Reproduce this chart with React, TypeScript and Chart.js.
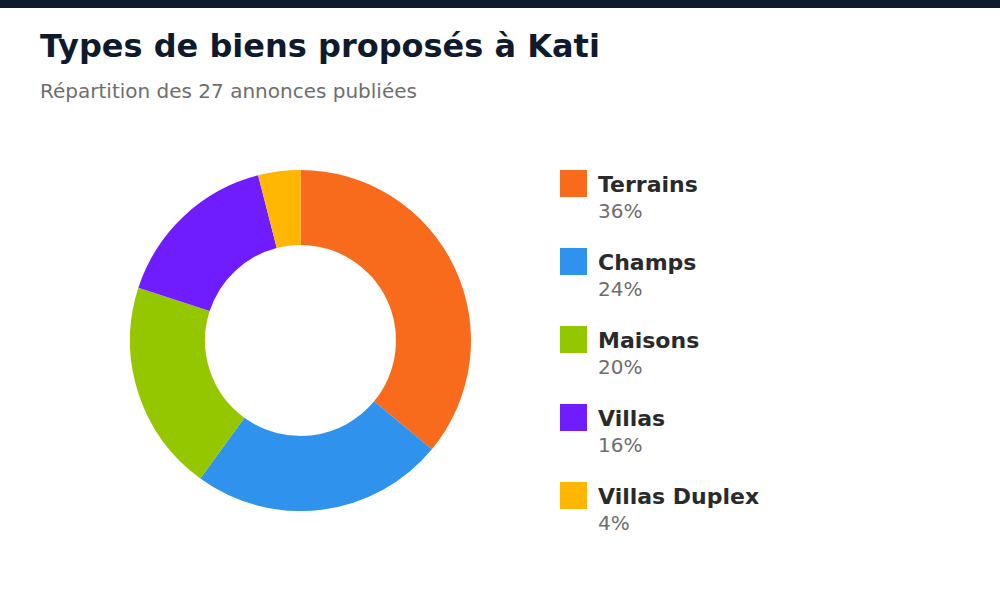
import React, { useEffect, useRef } from "react";
import { Chart, registerables } from "chart.js";

Chart.register(...registerables);

const categories = ["Terrains", "Champs", "Maisons", "Villas", "Villas Duplex"];
const values = [36, 24, 20, 16, 4];
const percentLabels = ["36%", "24%", "20%", "16%", "4%"];
const colors = ["#F96B1C", "#2F93EE", "#95C700", "#6F1DFF", "#FFB703"];

const FONT = "'DejaVu Sans', sans-serif";

export default function App() {
  const canvasRef = useRef<HTMLCanvasElement | null>(null);

  useEffect(() => {
    document.body.style.margin = "0";
    const ctx = canvasRef.current;
    if (!ctx) return;
    const chart = new Chart(ctx, {
      type: "doughnut",
      data: {
        labels: categories,
        datasets: [
          {
            data: values,
            backgroundColor: colors,
            borderWidth: 0,
          },
        ],
      },
      options: {
        animation: false,
        responsive: false,
        maintainAspectRatio: false,
        cutout: "56%",
        layout: { padding: 0 },
        plugins: {
          legend: { display: false },
          tooltip: { enabled: false },
          title: { display: false },
        },
      },
    });
    return () => chart.destroy();
  }, []);

  return (
    <div
      style={{
        position: "relative",
        width: 1000,
        height: 600,
        background: "#ffffff",
        fontFamily: FONT,
        overflow: "hidden",
      }}
    >
      <div style={{ position: "absolute", left: 0, top: 0, width: 1000, height: 8, background: "#0F1B2D" }} />
      <div
        style={{
          position: "absolute",
          left: 40,
          top: 30,
          fontSize: 32,
          lineHeight: 1,
          fontWeight: "bold",
          color: "#0F1B2D",
          whiteSpace: "nowrap",
        }}
      >
        Types de biens proposés à Kati
      </div>
      <div
        style={{
          position: "absolute",
          left: 40,
          top: 81,
          fontSize: 20,
          lineHeight: 1,
          color: "#6E6E6E",
          whiteSpace: "nowrap",
        }}
      >
        Répartition des 27 annonces publiées
      </div>
      <canvas
        ref={canvasRef}
        width={341}
        height={341}
        style={{ position: "absolute", left: 130, top: 170, width: 341, height: 341 }}
      />
      {categories.map((c, i) => (
        <div key={c}>
          <div
            style={{
              position: "absolute",
              left: 560,
              top: 170 + i * 78,
              width: 27,
              height: 27,
              background: colors[i],
            }}
          />
          <div
            style={{
              position: "absolute",
              left: 598,
              top: 174 + i * 78,
              fontSize: 22,
              lineHeight: 1,
              fontWeight: "bold",
              color: "#2A2A2A",
              whiteSpace: "nowrap",
            }}
          >
            {c}
          </div>
          <div
            style={{
              position: "absolute",
              left: 598,
              top: 201 + i * 78,
              fontSize: 20,
              lineHeight: 1,
              color: "#6E6E6E",
              whiteSpace: "nowrap",
            }}
          >
            {percentLabels[i]}
          </div>
        </div>
      ))}
    </div>
  );
}
